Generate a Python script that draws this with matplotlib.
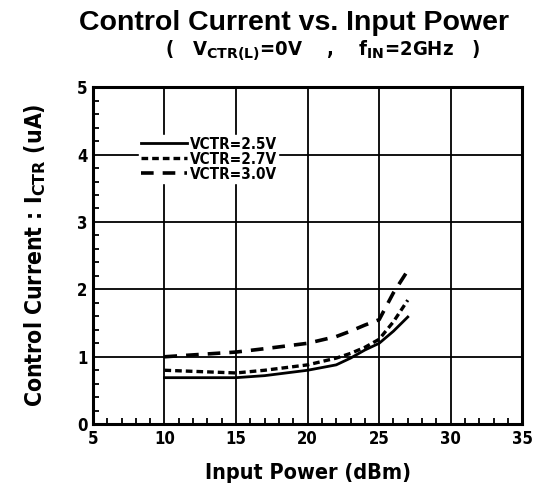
import matplotlib
matplotlib.use("Agg")
import matplotlib.pyplot as plt
from matplotlib.ticker import MultipleLocator

# readings
pin = [10, 15, 17, 20, 22, 23, 24, 25, 26, 27]
i_25 = [0.69, 0.69, 0.72, 0.80, 0.88, 0.98, 1.10, 1.20, 1.38, 1.59]
i_27 = [0.80, 0.76, 0.80, 0.88, 0.98, 1.05, 1.14, 1.26, 1.52, 1.84]
i_30 = [1.00, 1.07, 1.12, 1.20, 1.30, 1.38, 1.47, 1.55, 1.95, 2.28]
labels = ["VCTR=2.5V", "VCTR=2.7V", "VCTR=3.0V"]

cond = 'DejaVu Sans'

fig = plt.figure(figsize=(5.34, 4.87), dpi=100)
ax = fig.add_axes([0.174, 0.129, 0.804, 0.692])

ax.plot(pin, i_25, color='black', lw=2.0, ls='-', label=labels[0])
ax.plot(pin, i_27, color='black', lw=2.4, ls=(0, (2.0, 1.2)), label=labels[1])
ax.plot(pin, i_30, color='black', lw=2.6, ls=(0, (3.5, 2.5)), label=labels[2])

ax.set_xlim(5, 35)
ax.set_ylim(0, 5)
ax.xaxis.set_major_locator(MultipleLocator(5))
ax.xaxis.set_minor_locator(MultipleLocator(1))
ax.yaxis.set_major_locator(MultipleLocator(1))
ax.yaxis.set_minor_locator(MultipleLocator(0.2))
ax.grid(True, which='major', color='black', lw=1.3)
ax.tick_params(which='both', direction='in', top=False, right=False)
ax.tick_params(which='major', length=0, pad=4)
ax.tick_params(which='minor', length=4, width=1.3)
for s in ax.spines.values():
    s.set_linewidth(2.2)

for t in ax.get_xticklabels() + ax.get_yticklabels():
    t.set_family(cond)
    t.set_fontweight('bold')
    t.set_fontstretch('condensed')
    t.set_fontsize(12)

ax.set_xlabel("Input Power (dBm)", family=cond, fontweight='bold', fontstretch='condensed',
              fontsize=15.5, labelpad=11)
ax.set_ylabel("Control Current : I$_{\\mathbf{CTR}}$ (uA)", family=cond, fontweight='bold',
              fontstretch='condensed', fontsize=16.5, labelpad=21)

fig.text(0.55, 0.952, "Control Current vs. Input Power", ha='center', va='center',
         fontsize=20.5, fontweight='bold', family='Liberation Sans')
fig.text(0.605, 0.895, "(   V$_{\\mathbf{CTR(L)}}$=0V    ,    f$_{\\mathbf{IN}}$=2GHz   )", ha='center', va='center',
         fontsize=14.5, fontweight='bold', fontstretch='condensed', family=cond)

leg = ax.legend(loc='upper left', bbox_to_anchor=(0.09, 0.88), frameon=True, framealpha=1,
                edgecolor='white', fancybox=False, handlelength=3.0, handletextpad=0.2,
                labelspacing=0.0, borderpad=0.1,
                prop={'family': cond, 'weight': 'bold', 'size': 11, 'stretch': 'condensed'})

fig.savefig("out.png", dpi=100)
